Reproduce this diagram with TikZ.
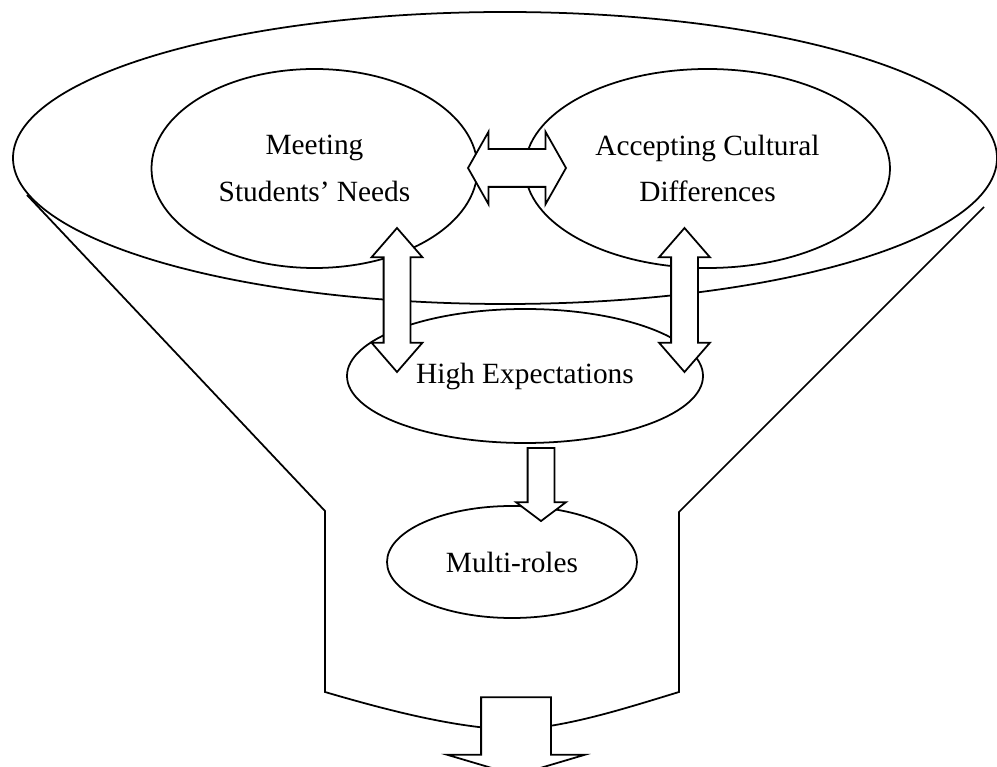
\documentclass[tikz,border=0pt]{standalone}
\usepackage{fontspec}
\setmainfont{Liberation Serif}
\usetikzlibrary{shapes.geometric, shapes.arrows}

\begin{document}
\begin{tikzpicture}[
    every node/.style = {align=center},
    bubble/.style = {draw, ellipse, line width=1pt, inner sep=0pt,
                     font=\fontsize{16.7}{26.7}\selectfont},
    twoway/.style = {draw, double arrow, fill=white, line width=1pt, inner xsep=0pt},
    oneway/.style = {draw, single arrow, fill=white, line width=1pt, inner xsep=0pt},
    funnel/.style = {line width=1pt},
]
\useasboundingbox (0,0) rectangle (19.94,-15.34);

%% Outer frame
\node[bubble, minimum width=19.68cm, minimum height=5.84cm] (frame) at (10.10,-3.16) {};

%% Funnel
\coordinate (fl-top)  at (0.54,-3.90);
\coordinate (fl-mid)  at (6.50,-10.22);
\coordinate (fl-bot)  at (6.50,-13.84);
\coordinate (f-base)  at (10.32,-14.60);
\coordinate (fr-bot)  at (13.58,-13.84);
\coordinate (fr-mid)  at (13.58,-10.24);
\coordinate (fr-top)  at (19.68,-4.14);
\draw[funnel] (fl-top) -- (fl-mid) -- (fl-bot)
    .. controls (8.00,-14.28) and (9.20,-14.56) .. (f-base)
    .. controls (11.40,-14.52) and (12.40,-14.20) .. (fr-bot) -- (fr-mid) -- (fr-top);

%% Themes
\node[bubble, minimum width=6.52cm, minimum height=3.98cm] (needs)   at (6.29,-3.37)  {Meeting\\Students’ Needs};
\node[bubble, minimum width=7.30cm, minimum height=3.98cm] (culture) at (14.15,-3.37) {Accepting Cultural\\Differences};
\node[bubble, minimum width=7.12cm, minimum height=2.68cm] (expect)  at (10.50,-7.52) {High Expectations};
\node[bubble, minimum width=5.00cm, minimum height=2.24cm] (roles)   at (10.24,-11.24) {Multi-roles};

%% Links
\node[twoway, inner ysep=0.36cm, minimum height=1.96cm, minimum width=1.42cm,
      double arrow head extend=0.35cm, double arrow tip angle=121] (needs-culture) at (10.34,-3.36) {};
\node[twoway, rotate=90, inner ysep=0.25cm, minimum height=2.88cm, minimum width=0.98cm,
      double arrow head extend=0.24cm, double arrow tip angle=82] (needs-expect) at (7.94,-6.00) {};
\node[twoway, rotate=90, inner ysep=0.25cm, minimum height=2.88cm, minimum width=0.98cm,
      double arrow head extend=0.24cm, double arrow tip angle=82] (culture-expect) at (13.69,-6.00) {};
\node[oneway, rotate=-90, inner ysep=0.25cm, minimum height=1.46cm, minimum width=0.96cm,
      single arrow head extend=0.23cm, single arrow tip angle=106] (expect-roles) at (10.82,-9.59) {};
\node[oneway, rotate=-90, inner ysep=0.68cm, minimum height=1.56cm, minimum width=2.72cm,
      single arrow head extend=0.68cm, single arrow tip angle=147] (outflow) at (10.32,-14.62) {};

\end{tikzpicture}
\end{document}
